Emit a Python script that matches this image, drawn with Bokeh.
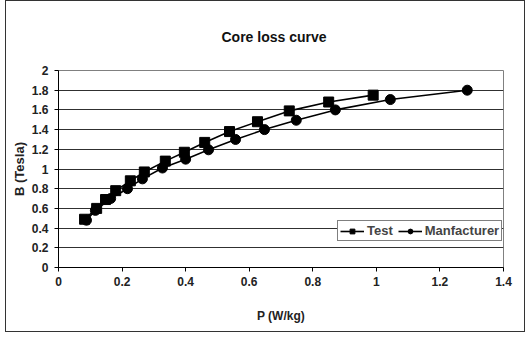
from bokeh.plotting import figure
from bokeh.models import FixedTicker, Legend, LegendItem
from bokeh.embed import file_html
from bokeh.resources import INLINE

# Data
test_p = [0.082, 0.12, 0.148, 0.18, 0.226, 0.27, 0.336, 0.396, 0.46, 0.538, 0.626, 0.726, 0.85, 0.99]
test_b = [0.49, 0.60, 0.69, 0.78, 0.88, 0.97, 1.08, 1.17, 1.27, 1.38, 1.48, 1.59, 1.68, 1.75]
man_p = [0.088, 0.116, 0.164, 0.217, 0.264, 0.327, 0.40, 0.472, 0.557, 0.648, 0.748, 0.871, 1.044, 1.286]
man_b = [0.48, 0.58, 0.70, 0.80, 0.90, 1.01, 1.10, 1.195, 1.30, 1.40, 1.495, 1.60, 1.705, 1.80]

x_ticks = [0, 0.2, 0.4, 0.6, 0.8, 1.0, 1.2, 1.4]
x_tick_labels = ["0", "0.2", "0.4", "0.6", "0.8", "1", "1.2", "1.4"]
y_ticks = [0, 0.2, 0.4, 0.6, 0.8, 1.0, 1.2, 1.4, 1.6, 1.8, 2.0]
y_tick_labels = ["0", "0.2", "0.4", "0.6", "0.8", "1", "1.2", "1.4", "1.6", "1.8", "2"]
chart_title = "Core loss curve"

FONT = "Liberation Sans"

p = figure(width=518, height=330, output_backend="svg", toolbar_location=None,
           x_range=(0, 1.4), y_range=(0, 2.0),
           frame_width=445, frame_height=197,
           min_border_left=52, min_border_right=21, min_border_top=69, min_border_bottom=64,
           title=chart_title)

p.title.align = "left"
p.title.offset = 163
p.title.text_font = FONT
p.title.text_font_size = "14px"
p.title.text_font_style = "bold"
p.title.text_color = "#111111"
p.title.standoff = 51

p.outline_line_color = "#808080"
p.background_fill_color = "white"
p.border_fill_color = "white"

# axes
p.xaxis.ticker = FixedTicker(ticks=x_ticks)
p.xaxis.major_label_overrides = {t: l for t, l in zip(x_ticks, x_tick_labels)}
p.yaxis.ticker = FixedTicker(ticks=y_ticks)
p.yaxis.major_label_overrides = {t: l for t, l in zip(y_ticks, y_tick_labels)}
for ax in (p.xaxis[0], p.yaxis[0]):
    ax.axis_line_color = "black"
    ax.major_tick_line_color = "black"
    ax.major_tick_in = 0
    ax.major_tick_out = 4
    ax.minor_tick_line_color = None
    ax.major_label_text_font = FONT
    ax.major_label_text_font_size = "12px"
    ax.major_label_text_font_style = "bold"
    ax.major_label_text_color = "#222222"
    ax.axis_label_text_font = FONT
    ax.axis_label_text_color = "#222222"

p.xaxis.axis_label = "P (W/kg)"
p.xaxis.axis_label_text_font_size = "12px"
p.xaxis.axis_label_text_font_style = "bold"
p.xaxis.major_label_standoff = 5
p.xaxis.axis_label_standoff = 20

p.yaxis.axis_label = "B (Tesla)"
p.yaxis.axis_label_text_font_size = "13px"
p.yaxis.axis_label_text_font_style = "bold"
p.yaxis.major_label_standoff = 6
p.yaxis.axis_label_standoff = 2

p.xgrid.grid_line_color = None
p.ygrid.grid_line_color = "#303030"
p.ygrid.grid_line_width = 1

# series
l1 = p.line(test_p, test_b, line_color="black", line_width=1.6)
m1 = p.scatter(test_p, test_b, marker="square", size=10, fill_color="black", line_color="black")
l2 = p.line(man_p, man_b, line_color="black", line_width=1.6)
m2 = p.scatter(man_p, man_b, marker="circle", size=10, fill_color="black", line_color="black")

legend = Legend(items=[LegendItem(label="Test", renderers=[l1, m1]),
                       LegendItem(label="Manfacturer", renderers=[l2, m2])],
                orientation="horizontal", location=(279, 26))
legend.label_text_font = FONT
legend.label_text_font_size = "13px"
legend.label_text_font_style = "bold"
legend.border_line_color = "black"
legend.border_line_width = 1
legend.background_fill_alpha = 1
legend.padding = 2
legend.spacing = 5
legend.margin = 0
legend.glyph_width = 24
legend.glyph_height = 12
legend.label_standoff = 3
legend.label_height = 13
p.add_layout(legend)

p.styles = {"border": "1px solid #333333", "margin-left": "5px"}

open("out.html", "w").write(file_html(p, INLINE))
